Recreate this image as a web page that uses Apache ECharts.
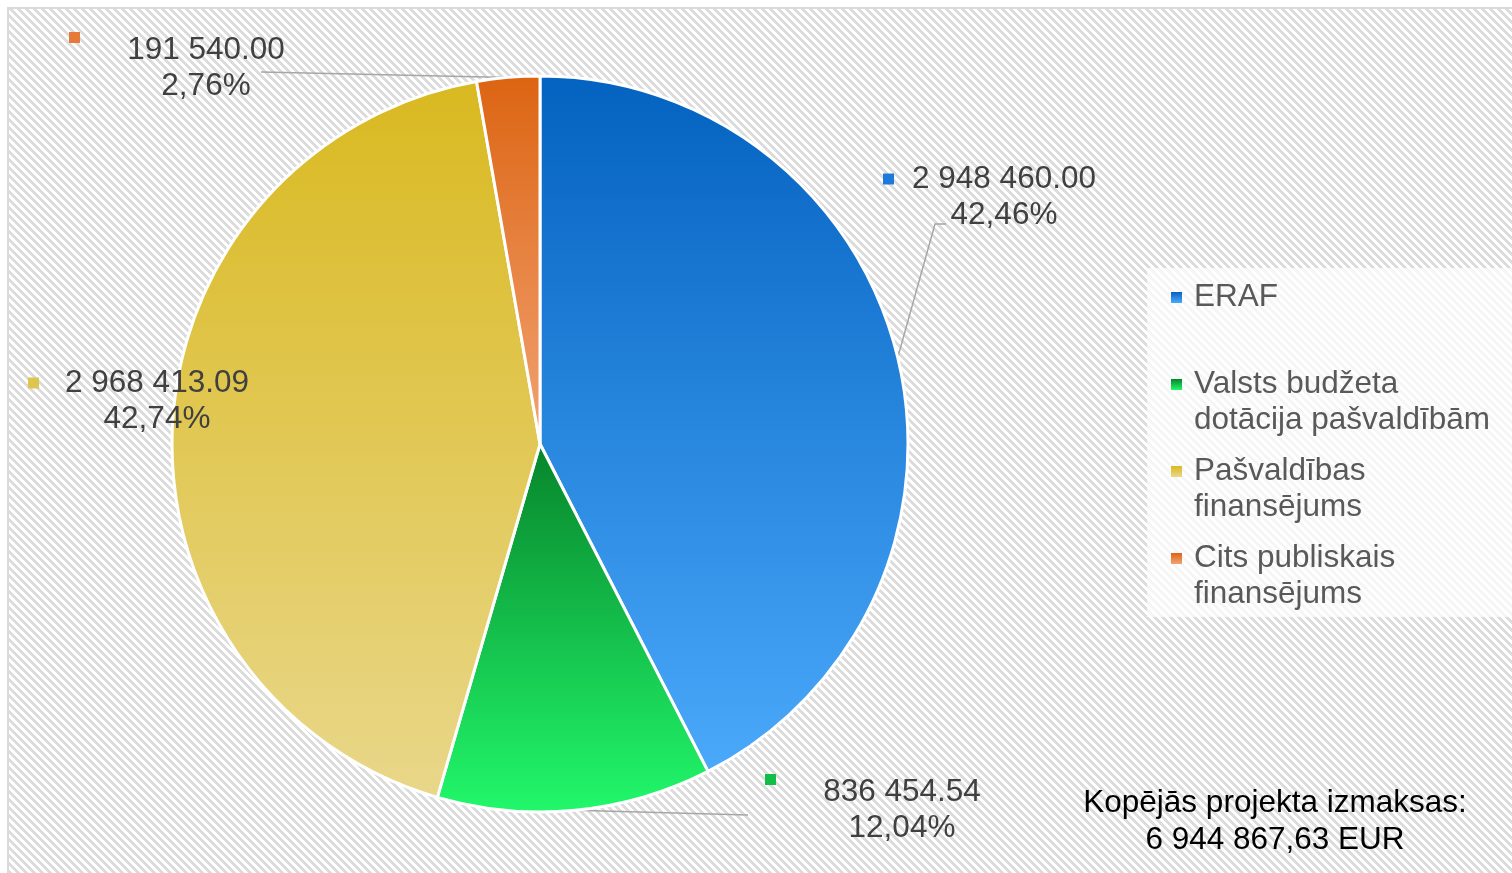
<!DOCTYPE html>
<html>
<head>
<meta charset="utf-8">
<script src="https://cdn.jsdelivr.net/npm/echarts@6/dist/echarts.min.js"></script>
<style>
  html, body { margin: 0; padding: 0; background: #fff; }
  #chart { width: 1512px; height: 873px; }
</style>
</head>
<body>
<div id="chart"></div>
<script>
const categories = ['ERAF', 'Valsts budžeta dotācija pašvaldībām', 'Pašvaldības finansējums', 'Cits publiskais finansējums'];
const legendLines = ['ERAF\n ', 'Valsts budžeta\ndotācija pašvaldībām', 'Pašvaldības\nfinansējums', 'Cits publiskais\nfinansējums'];
const amounts = [2948460.00, 836454.54, 2968413.09, 191540.00];
const totalCaption = 'Kopējās projekta izmaksas:';
const currency = 'EUR';

// slice gradients, top -> bottom
const sliceColors = [
  ['#0462C0', '#4AA9FA'],
  ['#07842B', '#22F86B'],
  ['#D9B920', '#E9D78A'],
  ['#DC6412', '#F2A373']
];
const keyColors = ['#1D7AD9', '#12BE48', '#DEC550', '#E57A3A'];

// where each data label sits (left/top of its colour key), and leader line ends
const labelBoxes = [
  { x: 883, y: 161, w: 242, key: 'middle', line: [[935, 224], [946, 224]] },
  { x: 765, y: 774, w: 274, key: 'top', line: [[748, 815], [748, 815]] },
  { x: 28, y: 365, w: 258, key: 'middle', line: null },
  { x: 69, y: 32, w: 274, key: 'top', line: [[261, 72], [261, 72]] }
];

const FONT = '"Liberation Sans", Arial, sans-serif';

function fmt(v, dec, sep) {
  const parts = v.toFixed(2).split('.');
  return parts[0].replace(/\B(?=(\d{3})+(?!\d))/g, ' ') + sep + parts[1];
}

function grad(c, a, b) {
  return new echarts.graphic.LinearGradient(0, 0, 0, 1, [
    { offset: a, color: c[0] },
    { offset: b, color: c[1] }
  ]);
}

// hatched backdrop tile
const tile = document.createElement('canvas');
tile.width = 8; tile.height = 8;
const tctx = tile.getContext('2d');
for (let x = 0; x < 8; x++) {
  for (let y = 0; y < 8; y++) {
    tctx.fillStyle = (((x - y) % 8) + 8) % 8 < 4 ? '#dcdcdc' : '#ffffff';
    tctx.fillRect(x, y, 1, 1);
  }
}

const total = amounts.reduce((s, v) => s + v, 0);

const chart = echarts.init(document.getElementById('chart'));

const pieData = categories.map((name, i) => ({
  name,
  value: amounts[i],
  itemStyle: { color: grad(sliceColors[i], 0, 1) },
  labelLine: { show: labelBoxes[i].line != null },
  label: {
    width: labelBoxes[i].w,
    rich: {
      sq: { width: 11, height: 11, backgroundColor: keyColors[i], align: 'left', verticalAlign: labelBoxes[i].key },
      v: { fontSize: 31.5, fontFamily: FONT, color: '#404040', align: 'center', lineHeight: 36 },
      pad: { width: 11, height: 11, align: 'right' },
      p: { fontSize: 31.5, fontFamily: FONT, color: '#404040', align: 'center', lineHeight: 36 }
    }
  }
}));

chart.setOption({
  animation: false,
  graphic: [
    {
      type: 'rect',
      z: -10,
      silent: true,
      shape: { x: 8, y: 8, width: 1520, height: 880 },
      style: { fill: { image: tile, repeat: 'repeat' }, stroke: '#d9d9d9', lineWidth: 2 }
    },
    {
      type: 'text',
      x: 1275,
      y: 785,
      silent: true,
      style: {
        text: totalCaption + '\n' + fmt(total, 2, ',') + ' ' + currency,
        fontSize: 31.5,
        fontFamily: FONT,
        fill: '#000000',
        align: 'center',
        lineHeight: 37
      }
    }
  ],
  legend: {
    orient: 'vertical',
    left: 1147,
    top: 268,
    padding: [11, 30, 4, 24],
    backgroundColor: 'rgba(255,255,255,0.72)',
    itemGap: 14,
    itemWidth: 18,
    itemHeight: 73,
    selectedMode: false,
    icon: 'path://M0,0M0,13h11v11h-11zM18,73',
    data: categories.map((name, i) => ({
      name,
      itemStyle: { color: grad(sliceColors[i], 13 / 73, 24 / 73), borderWidth: 0 }
    })),
    formatter: name => legendLines[categories.indexOf(name)],
    textStyle: { fontSize: 31.5, fontFamily: FONT, color: '#595959', lineHeight: 36.5 }
  },
  series: [{
    type: 'pie',
    center: [540, 444],
    radius: 368,
    startAngle: 90,
    clockwise: true,
    avoidLabelOverlap: false,
    emphasis: { disabled: true },
    itemStyle: { borderColor: '#ffffff', borderWidth: 3 },
    label: {
      show: true,
      position: 'outside',
      formatter: p => '{sq|}{v|' + fmt(p.value, 2, '.') + '}{pad|}\n{p|' + p.percent.toFixed(2).replace('.', ',') + '%}'
    },
    labelLine: {
      show: true,
      length: 10,
      length2: 10,
      lineStyle: { color: '#a6a6a6', width: 1.5 }
    },
    labelLayout: params => {
      const box = labelBoxes[params.dataIndex];
      const out = { x: box.x, y: box.y, align: 'left', verticalAlign: 'top' };
      if (box.line && params.labelLinePoints) {
        out.labelLinePoints = [params.labelLinePoints[0], box.line[0], box.line[1]];
      }
      return out;
    },
    data: pieData
  }]
});
</script>
</body>
</html>
